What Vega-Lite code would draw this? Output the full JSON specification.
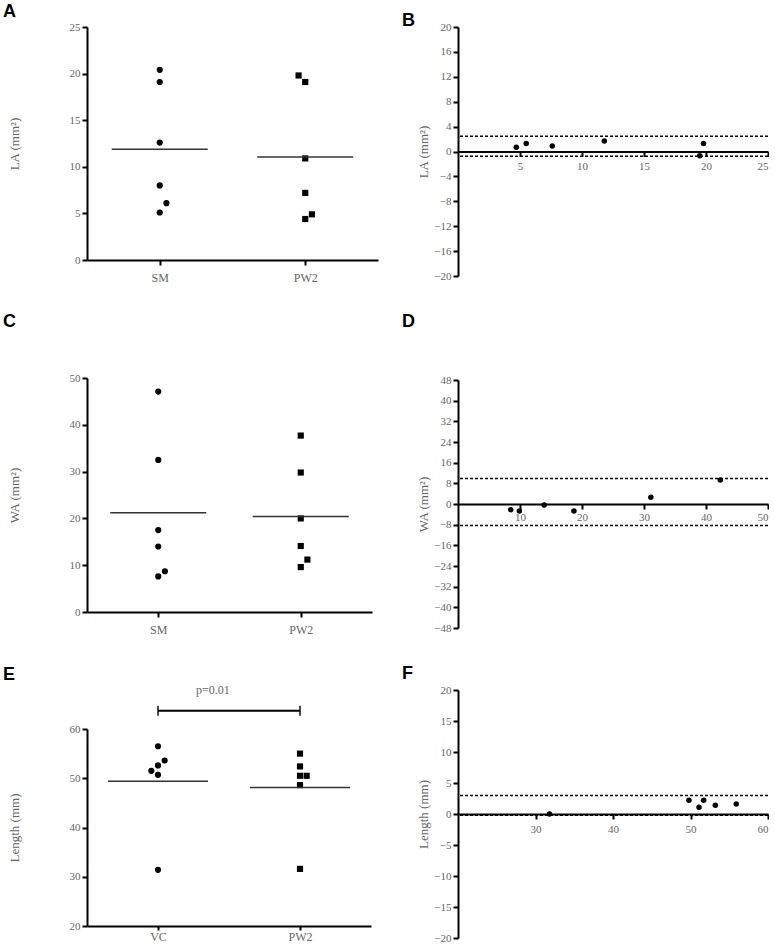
{
  "$schema": "https://vega.github.io/schema/vega-lite/v6.json",
  "background": "white",
  "padding": {"left": 3, "top": 3, "right": 0, "bottom": 0},
  "config": {
    "view": {"stroke": null},
    "title": {"anchor": "start", "font": "Liberation Sans", "fontSize": 18, "fontWeight": "bold", "color": "black", "frame": "group"},
    "axis": {"labelFont": "Liberation Serif", "labelColor": "#666", "labelFontSize": 11, "titleFont": "Liberation Serif", "titleFontWeight": "normal", "titleColor": "#666", "titleFontSize": 13, "domainColor": "black", "domainWidth": 2, "tickColor": "black", "tickWidth": 2, "tickSize": 5, "grid": false, "labelPadding": 2}
  },
  "hconcat": [
    {
      "spacing": 30,
      "vconcat": [
        {
          "width": 291, "height": 233,
          "title": {"text": "A", "dx": -84, "offset": 0},
          "data": {"values": [
            {"group": "SM", "value": 20.4, "side": "C"},
            {"group": "SM", "value": 19.1, "side": "C"},
            {"group": "SM", "value": 12.6, "side": "C"},
            {"group": "SM", "value": 8.0, "side": "C"},
            {"group": "SM", "value": 6.1, "side": "R"},
            {"group": "SM", "value": 5.1, "side": "C"},
            {"group": "PW2", "value": 19.8, "side": "L"},
            {"group": "PW2", "value": 19.1, "side": "C"},
            {"group": "PW2", "value": 10.9, "side": "C"},
            {"group": "PW2", "value": 7.2, "side": "C"},
            {"group": "PW2", "value": 4.9, "side": "R"},
            {"group": "PW2", "value": 4.4, "side": "C"}
          ]},
          "encoding": {
            "x": {"field": "group", "type": "nominal", "sort": ["SM", "PW2"], "scale": {"type": "point", "padding": 0.5}, "axis": {"title": null, "labelAngle": 0, "labelFontSize": 12, "labelPadding": 7}},
            "y": {"field": "value", "type": "quantitative", "scale": {"domain": [0, 25]}, "axis": {"values": [0, 5, 10, 15, 20, 25], "title": "LA (mm²)", "titlePadding": 48}}
          },
          "layer": [
            {"mark": {"type": "point", "filled": true, "opacity": 1, "color": "black", "size": 38},
             "encoding": {
               "xOffset": {"field": "side", "type": "nominal", "scale": {"type": "point", "domain": ["L", "C", "R"], "range": [-10, 10]}},
               "shape": {"field": "group", "type": "nominal", "scale": {"domain": ["SM", "PW2"], "range": ["circle", "square"]}, "legend": null}
             }},
            {"mark": {"type": "tick", "color": "#333", "thickness": 1.5, "size": 96},
             "encoding": {"y": {"aggregate": "mean", "field": "value", "type": "quantitative"}}}
          ]
        },
        {
          "width": 285, "height": 234,
          "title": {"text": "C", "dx": -84, "offset": 41},
          "data": {"values": [
            {"group": "SM", "value": 47.1, "side": "C"},
            {"group": "SM", "value": 32.5, "side": "C"},
            {"group": "SM", "value": 17.5, "side": "C"},
            {"group": "SM", "value": 14.0, "side": "C"},
            {"group": "SM", "value": 8.7, "side": "R"},
            {"group": "SM", "value": 7.6, "side": "C"},
            {"group": "PW2", "value": 37.7, "side": "C"},
            {"group": "PW2", "value": 29.8, "side": "C"},
            {"group": "PW2", "value": 20.0, "side": "C"},
            {"group": "PW2", "value": 14.1, "side": "C"},
            {"group": "PW2", "value": 11.2, "side": "R"},
            {"group": "PW2", "value": 9.6, "side": "C"}
          ]},
          "encoding": {
            "x": {"field": "group", "type": "nominal", "sort": ["SM", "PW2"], "scale": {"type": "point", "padding": 0.5}, "axis": {"title": null, "labelAngle": 0, "labelFontSize": 12, "labelPadding": 7}},
            "y": {"field": "value", "type": "quantitative", "scale": {"domain": [0, 50]}, "axis": {"values": [0, 10, 20, 30, 40, 50], "title": "WA (mm²)", "titlePadding": 48}}
          },
          "layer": [
            {"mark": {"type": "point", "filled": true, "opacity": 1, "color": "black", "size": 38},
             "encoding": {
               "xOffset": {"field": "side", "type": "nominal", "scale": {"type": "point", "domain": ["L", "C", "R"], "range": [-10, 10]}},
               "shape": {"field": "group", "type": "nominal", "scale": {"domain": ["SM", "PW2"], "range": ["circle", "square"]}, "legend": null}
             }},
            {"mark": {"type": "tick", "color": "#333", "thickness": 1.5, "size": 96},
             "encoding": {"y": {"aggregate": "mean", "field": "value", "type": "quantitative"}}}
          ]
        },
        {
          "width": 284, "height": 197,
          "title": {"text": "E", "dx": -84, "offset": 0},
          "layer": [
            {
              "data": {"values": [
                {"group": "VC", "value": 56.5, "side": "C"},
                {"group": "VC", "value": 53.6, "side": "R"},
                {"group": "VC", "value": 52.6, "side": "C"},
                {"group": "VC", "value": 51.5, "side": "L"},
                {"group": "VC", "value": 50.7, "side": "C"},
                {"group": "VC", "value": 31.4, "side": "C"},
                {"group": "PW2", "value": 55.0, "side": "C"},
                {"group": "PW2", "value": 52.4, "side": "C"},
                {"group": "PW2", "value": 50.5, "side": "C"},
                {"group": "PW2", "value": 50.5, "side": "R"},
                {"group": "PW2", "value": 48.6, "side": "C"},
                {"group": "PW2", "value": 31.6, "side": "C"}
              ]},
              "layer": [
                {"mark": {"type": "point", "filled": true, "opacity": 1, "color": "black", "size": 38},
                 "encoding": {
                   "x": {"field": "group", "type": "nominal"},
                   "y": {"field": "value", "type": "quantitative"},
                   "xOffset": {"field": "side", "type": "nominal", "scale": {"type": "point", "domain": ["L", "C", "R"], "range": [-10, 10]}},
                   "shape": {"field": "group", "type": "nominal", "scale": {"domain": ["VC", "PW2"], "range": ["circle", "square"]}, "legend": null}
                 }},
                {"mark": {"type": "tick", "color": "#333", "thickness": 1.5, "size": 100},
                 "encoding": {
                   "x": {"field": "group", "type": "nominal"},
                   "y": {"aggregate": "mean", "field": "value", "type": "quantitative"}}}
              ]
            },
            {
              "data": {"values": [{"from": "VC", "to": "PW2", "level": 63.7, "label": "p=0.01"}]},
              "layer": [
                {"mark": {"type": "rule", "color": "black", "strokeWidth": 2},
                 "encoding": {"x": {"field": "from", "type": "nominal"}, "x2": {"field": "to"}, "y": {"field": "level", "type": "quantitative"}}},
                {"mark": {"type": "tick", "orient": "vertical", "color": "black", "thickness": 2, "size": 10},
                 "encoding": {"x": {"field": "from", "type": "nominal"}, "y": {"field": "level", "type": "quantitative"}}},
                {"mark": {"type": "tick", "orient": "vertical", "color": "black", "thickness": 2, "size": 10},
                 "encoding": {"x": {"field": "to", "type": "nominal"}, "y": {"field": "level", "type": "quantitative"}}},
                {"mark": {"type": "text", "font": "Liberation Serif", "fontSize": 12, "color": "#666", "align": "left", "dx": 38, "dy": -21},
                 "encoding": {"x": {"field": "from", "type": "nominal"}, "y": {"field": "level", "type": "quantitative"}, "text": {"field": "label"}}}
              ]
            }
          ],
          "resolve": {"scale": {"x": "shared", "y": "shared"}},
          "encoding": {
            "x": {"scale": {"type": "point", "padding": 0.5, "domain": ["VC", "PW2"]}, "axis": {"title": null, "labelAngle": 0, "labelFontSize": 12, "labelPadding": 1, "tickSize": 4}},
            "y": {"scale": {"domain": [20, 60]}, "axis": {"values": [20, 30, 40, 50, 60], "title": "Length (mm)", "titlePadding": 48}}
          }
        }
      ]
    },
    {
      "spacing": 32,
      "vconcat": [
        {
          "width": 310, "height": 249,
          "title": {"text": "B", "dx": -56, "offset": -9},
          "layer": [
            {"data": {"values": [{"limit": 2.45}, {"limit": -0.75}]},
             "mark": {"type": "rule", "color": "black", "strokeWidth": 1.5, "strokeDash": [3, 2]},
             "encoding": {"y": {"field": "limit", "type": "quantitative"}}},
            {"data": {"values": [
               {"mean": 4.7, "diff": 0.7}, {"mean": 5.5, "diff": 1.3}, {"mean": 7.6, "diff": 0.9},
               {"mean": 11.8, "diff": 1.7}, {"mean": 19.5, "diff": -0.7}, {"mean": 19.8, "diff": 1.3}
             ]},
             "mark": {"type": "circle", "color": "black", "opacity": 1, "size": 30},
             "encoding": {"x": {"field": "mean", "type": "quantitative"}, "y": {"field": "diff", "type": "quantitative"}}}
          ],
          "encoding": {
            "x": {"scale": {"domain": [0, 25]}, "axis": {"values": [5, 10, 15, 20, 25], "title": null, "offset": -124.5, "labelPadding": 4}},
            "y": {"scale": {"domain": [-20, 20]}, "axis": {"values": [-20, -16, -12, -8, -4, 0, 4, 8, 12, 16, 20], "title": "LA (mm²)", "titlePadding": 3}}
          }
        },
        {
          "width": 310, "height": 248,
          "title": {"text": "D", "dx": -56, "offset": 43},
          "layer": [
            {"data": {"values": [{"limit": 9.9}, {"limit": -8.3}]},
             "mark": {"type": "rule", "color": "black", "strokeWidth": 1.5, "strokeDash": [3, 2]},
             "encoding": {"y": {"field": "limit", "type": "quantitative"}}},
            {"data": {"values": [
               {"mean": 8.5, "diff": -2.2}, {"mean": 9.9, "diff": -2.7}, {"mean": 13.9, "diff": -0.4},
               {"mean": 18.7, "diff": -2.7}, {"mean": 31.1, "diff": 2.6}, {"mean": 42.3, "diff": 9.3}
             ]},
             "mark": {"type": "circle", "color": "black", "opacity": 1, "size": 30},
             "encoding": {"x": {"field": "mean", "type": "quantitative"}, "y": {"field": "diff", "type": "quantitative"}}}
          ],
          "encoding": {
            "x": {"scale": {"domain": [0, 50]}, "axis": {"values": [10, 20, 30, 40, 50], "title": null, "offset": -124, "labelPadding": 2}},
            "y": {"scale": {"domain": [-48, 48]}, "axis": {"values": [-48, -40, -32, -24, -16, -8, 0, 8, 16, 24, 32, 40, 48], "title": "WA (mm²)", "titlePadding": 3}}
          }
        },
        {
          "width": 310, "height": 248,
          "title": {"text": "F", "dx": -56, "offset": 1},
          "layer": [
            {"data": {"values": [{"limit": 3.0}, {"limit": -0.2}]},
             "mark": {"type": "rule", "color": "black", "strokeWidth": 1.5, "strokeDash": [3, 2]},
             "encoding": {"y": {"field": "limit", "type": "quantitative"}}},
            {"data": {"values": [
               {"mean": 31.8, "diff": 0.0}, {"mean": 49.8, "diff": 2.2}, {"mean": 51.1, "diff": 1.1},
               {"mean": 51.7, "diff": 2.2}, {"mean": 53.2, "diff": 1.4}, {"mean": 55.9, "diff": 1.6}
             ]},
             "mark": {"type": "circle", "color": "black", "opacity": 1, "size": 30},
             "encoding": {"x": {"field": "mean", "type": "quantitative"}, "y": {"field": "diff", "type": "quantitative"}}}
          ],
          "encoding": {
            "x": {"scale": {"domain": [20, 60]}, "axis": {"values": [30, 40, 50, 60], "title": null, "offset": -124, "labelPadding": 4}},
            "y": {"scale": {"domain": [-20, 20]}, "axis": {"values": [-20, -15, -10, -5, 0, 5, 10, 15, 20], "title": "Length (mm)", "titlePadding": 3}}
          }
        }
      ]
    }
  ],
  "spacing": 24
}
